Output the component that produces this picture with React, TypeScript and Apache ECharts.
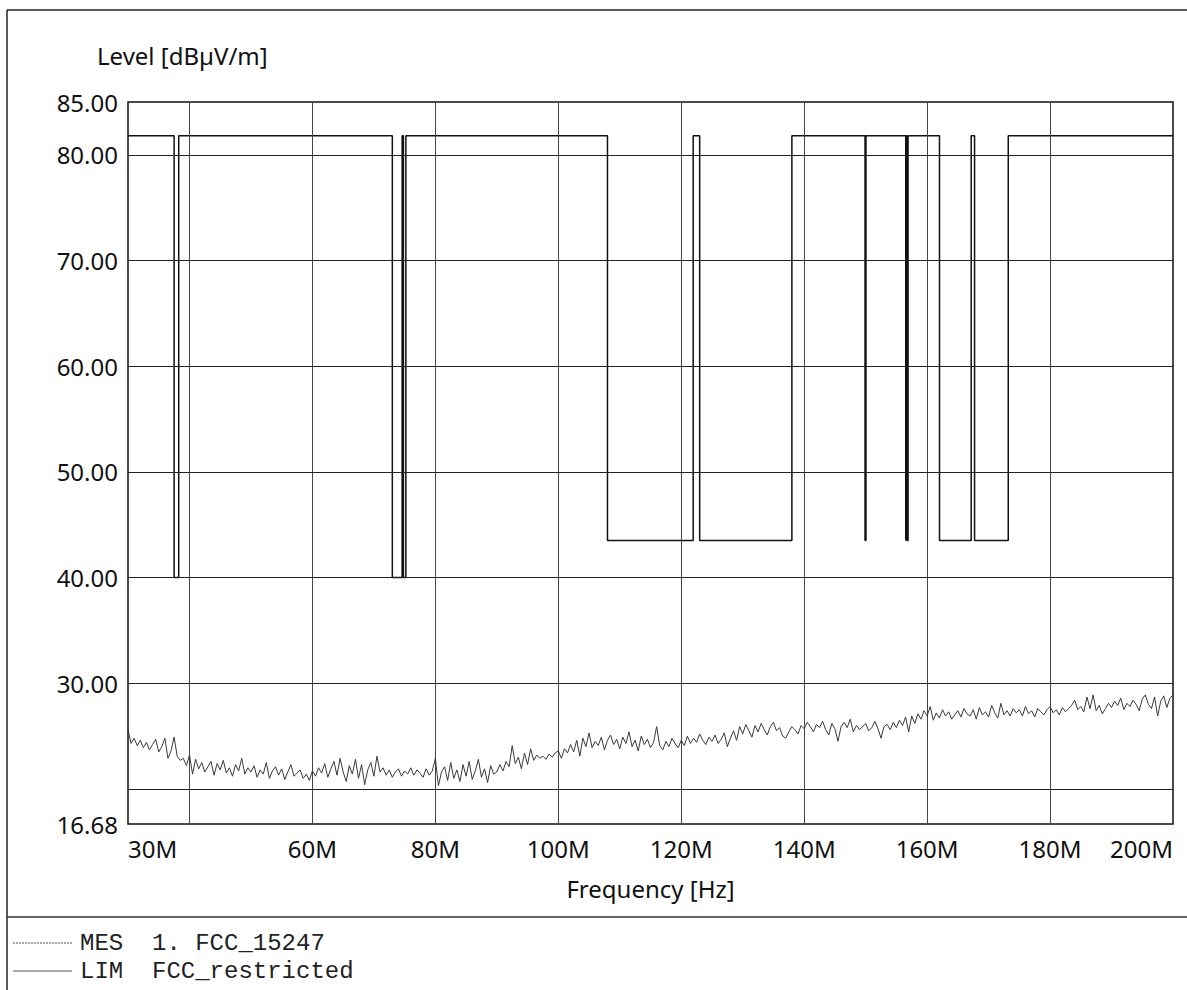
import React, { useEffect, useRef } from "react";
import * as echarts from "echarts";

// ---- Data ----
const X_MIN = 30;
const X_MAX = 200;
const Y_MIN = 16.68;
const Y_MAX = 85;

const X_LABELS = [30, 60, 80, 100, 120, 140, 160, 180, 200];
const X_GRID = [40, 60, 80, 100, 120, 140, 160, 180];
const Y_LABELS = [16.68, 30, 40, 50, 60, 70, 80, 85];
const Y_GRID = [20, 30, 40, 50, 60, 70, 80];

// FCC restricted-band limit
const LIMIT_TOP = 81.8;
const BAND_LO = [37.5, 73, 74.8, 108, 123, 149.9, 156.52475, 156.7, 162.0125, 167.72];
const BAND_HI = [38.25, 74.6, 75.2, 121.94, 138, 150.05, 156.52525, 156.9, 167.17, 173.2];
const BAND_LEVEL = [40, 40, 40, 43.5, 43.5, 43.5, 43.5, 43.5, 43.5, 43.5];

// Measured trace, 30 MHz .. 200 MHz, one reading every 0.5 MHz
const MES_START = 30;
const MES_STEP = 0.5;
const MES_LEVELS = [
  25.6, 24.3, 24.8, 24.1, 24.6, 23.9, 24.4, 23.7, 24.2, 24.7, 23.5, 24.0, 24.8, 22.9, 23.6, 24.9, 23.1, 22.7, 22.9, 22.2,
  23.2, 21.4, 22.8, 21.9, 22.5, 21.6, 22.1, 22.6, 21.3, 22.4, 21.8, 22.7, 21.5, 22.0, 21.2, 22.3, 21.7, 22.9, 21.4, 22.0,
  21.6, 22.2, 21.1, 21.8, 21.4, 22.5, 21.0, 21.7, 22.1, 21.3, 21.9, 20.9, 21.6, 22.3, 21.2, 21.5, 21.8, 21.0, 21.4, 20.8,
  21.7, 21.2, 22.0, 21.5, 22.4, 21.1, 21.9, 22.6, 21.3, 22.9, 21.6, 20.7, 22.2, 21.4, 22.8, 21.0, 22.3, 20.4, 21.8, 22.5,
  21.2, 23.1, 21.6, 22.0, 21.3, 21.8, 21.1, 21.6, 21.9, 21.2, 21.7, 21.4, 22.0, 21.3, 21.8, 21.5, 21.1, 21.9, 21.3, 21.7,
  22.9, 20.3, 21.6, 22.1, 20.8, 22.5, 21.0, 21.8, 20.7, 22.3, 21.2, 22.6, 20.9, 21.7, 22.8, 21.1, 21.9, 20.6, 22.2, 21.4,
  21.6, 22.3, 21.7, 22.6, 22.1, 24.1, 22.4, 23.0, 21.9, 23.4, 22.3, 23.8, 22.7, 23.2, 22.9, 23.1, 22.8, 23.3, 23.0, 23.4,
  23.6, 22.9, 23.8, 23.4, 24.2, 23.5, 24.6, 23.1, 24.8, 24.0, 25.3, 23.9, 24.5, 24.1, 24.9, 23.7, 24.6, 25.1, 24.2, 24.7,
  23.8, 24.9, 24.3, 25.4, 24.0, 24.6, 23.6, 25.0, 24.2, 24.7, 23.9, 24.4, 25.9, 24.1, 23.7, 24.5, 24.0, 24.8, 24.3, 23.9,
  24.6, 24.1, 25.0, 24.3, 24.8, 24.4, 25.2, 24.6, 24.2, 24.9, 24.5, 25.1, 24.3, 24.7, 25.3, 24.0, 24.8, 25.5, 24.6, 25.9,
  25.2, 26.1, 25.5, 24.9, 26.0, 25.4, 26.2, 25.6, 25.1, 25.9, 26.3, 25.5, 25.8, 25.0, 24.8, 25.4, 25.9, 25.6, 25.2, 26.0,
  25.7, 26.3, 25.9, 25.4, 26.1, 25.8, 26.4, 25.6, 25.1, 26.2, 25.7, 24.5, 25.9, 26.3, 25.8, 26.6, 25.4, 26.0, 25.6, 25.9,
  26.2, 25.5, 25.8, 26.4, 25.7, 24.8, 25.9, 26.1, 25.6, 26.3, 25.8, 26.5, 26.0, 26.8, 25.4, 26.9, 26.2, 27.1, 26.6, 27.4,
  26.9, 27.8, 26.5, 27.2, 26.7, 27.5, 26.9, 27.3, 26.6, 27.0, 27.4, 26.8, 27.6, 27.1, 26.9, 27.5, 26.6, 27.7, 27.0, 27.3,
  26.8, 27.9, 27.2, 26.7, 28.1, 27.0, 27.4, 26.9, 27.6, 27.2, 27.5, 26.9, 27.8, 27.1, 27.4, 26.8, 27.6, 27.3, 27.0, 27.5,
  27.8, 27.2, 27.5, 27.0, 27.7, 27.3, 27.6, 27.9, 28.4, 27.5, 27.8, 27.3, 28.7, 27.6, 28.9, 27.4, 27.9, 27.1, 27.6, 28.1,
  27.7, 28.3, 27.9, 28.6, 27.5, 28.1, 27.8, 28.4, 28.0, 27.4, 28.5, 28.9, 28.0, 27.6, 28.7, 26.9, 28.3, 28.8, 27.7, 28.6,
  28.9,
];

const LEGEND_ROWS = [
  { tag: "MES", name: "1. FCC_15247", dotted: true },
  { tag: "LIM", name: "FCC_restricted", dotted: false },
];

function buildLimit(): number[][] {
  const pts: number[][] = [[X_MIN, LIMIT_TOP]];
  for (let i = 0; i < BAND_LO.length; i++) {
    pts.push([BAND_LO[i], LIMIT_TOP]);
    pts.push([BAND_LO[i], BAND_LEVEL[i]]);
    pts.push([BAND_HI[i], BAND_LEVEL[i]]);
    pts.push([BAND_HI[i], LIMIT_TOP]);
  }
  pts.push([X_MAX, LIMIT_TOP]);
  return pts;
}

const SANS = "'Noto Sans', 'DejaVu Sans', sans-serif";
const MONO = "'Liberation Mono', 'DejaVu Sans Mono', monospace";

export default function App() {
  const ref = useRef<HTMLDivElement>(null);

  useEffect(() => {
    if (!ref.current) return;
    const chart = echarts.init(ref.current, null, { renderer: "svg" });

    const mes = MES_LEVELS.map((v, i) => [MES_START + i * MES_STEP, v]);
    const limit = buildLimit();

    const legendGraphics: any[] = [];
    LEGEND_ROWS.forEach((r, i) => {
      const y = 943 + i * 28;
      legendGraphics.push({
        type: "line",
        shape: { x1: 13, y1: y, x2: 72, y2: y },
        style: { stroke: "#555", lineWidth: 1.2, lineDash: r.dotted ? [2, 1] : null },
      });
      legendGraphics.push({
        type: "text",
        x: 80,
        y,
        style: { text: r.tag, font: `24px ${MONO}`, fill: "#222", verticalAlign: "middle" },
      });
      legendGraphics.push({
        type: "text",
        x: 152,
        y,
        style: { text: r.name, font: `24px ${MONO}`, fill: "#222", verticalAlign: "middle" },
      });
    });

    const option: any = {
      animation: false,
      backgroundColor: "#ffffff",
      grid: {
        left: 128,
        top: 102,
        right: 14,
        bottom: 166,
        show: true,
        borderColor: "#111",
        borderWidth: 1.5,
        backgroundColor: "transparent",
        containLabel: false,
      },
      xAxis: {
        type: "value",
        min: X_MIN,
        max: X_MAX,
        axisLine: { show: false },
        axisTick: { show: false },
        splitLine: { show: false },
        axisLabel: {
          customValues: X_LABELS,
          formatter: (v: number) => `${v}M`,
          fontFamily: SANS,
          fontSize: 24,
          color: "#111",
          margin: 12,
          alignMinLabel: "left",
          alignMaxLabel: "right",
          showMinLabel: true,
          showMaxLabel: true,
        },
        name: "Frequency [Hz]",
        nameLocation: "middle",
        nameGap: 52,
        nameTextStyle: { fontFamily: SANS, fontSize: 24, color: "#111" },
      },
      yAxis: {
        type: "value",
        min: Y_MIN,
        max: Y_MAX,
        axisLine: { show: false },
        axisTick: { show: false },
        splitLine: { show: false },
        axisLabel: {
          customValues: Y_LABELS,
          formatter: (v: number) => v.toFixed(2),
          fontFamily: SANS,
          fontSize: 24,
          color: "#111",
          margin: 10,
          showMinLabel: true,
          showMaxLabel: true,
        },
      },
      series: [
        {
          name: "LIM",
          type: "line",
          data: limit,
          symbol: "none",
          z: 4,
          lineStyle: { color: "#111", width: 1.5 },
          markLine: {
            silent: true,
            symbol: ["none", "none"],
            label: { show: false },
            lineStyle: { color: "#222", width: 1.2, type: "solid" },
            data: [
              ...X_GRID.map((v) => ({ xAxis: v, lineStyle: { color: "#444", width: 1 } })),
              ...Y_GRID.map((v) => ({ yAxis: v })),
            ],
          },
        },
        {
          name: "MES",
          type: "line",
          data: mes,
          symbol: "none",
          z: 5,
          lineStyle: { color: "#3a3a3a", width: 1 },
        },
      ],
      graphic: [
        {
          type: "line",
          shape: { x1: 7, y1: 10, x2: 1187, y2: 10 },
          style: { stroke: "#222", lineWidth: 1.5 },
        },
        {
          type: "line",
          shape: { x1: 7, y1: 10, x2: 7, y2: 990 },
          style: { stroke: "#222", lineWidth: 1.5 },
        },
        {
          type: "line",
          shape: { x1: 7, y1: 917, x2: 1187, y2: 917 },
          style: { stroke: "#333", lineWidth: 1.5 },
        },
        {
          type: "text",
          x: 97,
          y: 55,
          style: { text: "Level [dBµV/m]", font: `24px ${SANS}`, fill: "#111", verticalAlign: "middle" },
        },
        ...legendGraphics,
      ],
    };

    chart.setOption(option);
    return () => chart.dispose();
  }, []);

  return (
    <div
      ref={ref}
      style={{ position: "fixed", left: 0, top: 0, width: 1187, height: 990, background: "#fff" }}
    />
  );
}
